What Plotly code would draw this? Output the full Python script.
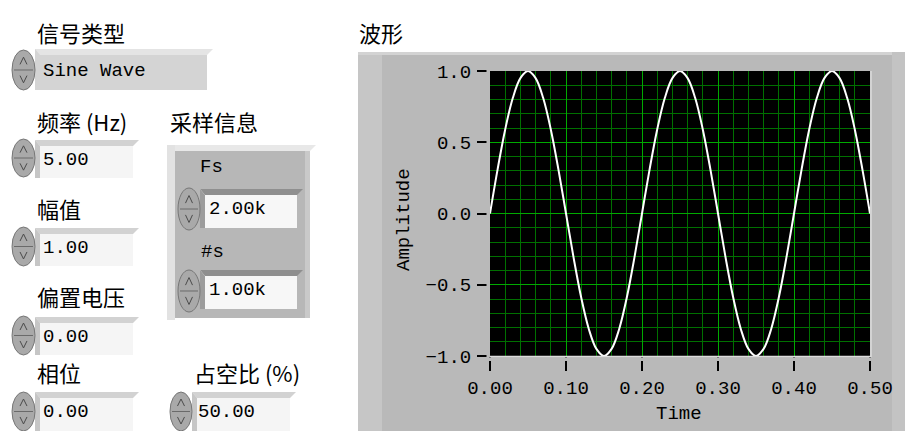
import plotly.graph_objects as go

# ---------------- data ----------------
TIME = [0.00, 0.01, 0.02, 0.03, 0.04, 0.05, 0.06, 0.07, 0.08, 0.09,
        0.10, 0.11, 0.12, 0.13, 0.14, 0.15, 0.16, 0.17, 0.18, 0.19,
        0.20, 0.21, 0.22, 0.23, 0.24, 0.25, 0.26, 0.27, 0.28, 0.29,
        0.30, 0.31, 0.32, 0.33, 0.34, 0.35, 0.36, 0.37, 0.38, 0.39,
        0.40, 0.41, 0.42, 0.43, 0.44, 0.45, 0.46, 0.47, 0.48, 0.49, 0.50]
AMPLITUDE = [0.00, 0.31, 0.59, 0.81, 0.95, 1.00, 0.95, 0.81, 0.59, 0.31,
             0.00, -0.31, -0.59, -0.81, -0.95, -1.00, -0.95, -0.81, -0.59, -0.31,
             0.00, 0.31, 0.59, 0.81, 0.95, 1.00, 0.95, 0.81, 0.59, 0.31,
             0.00, -0.31, -0.59, -0.81, -0.95, -1.00, -0.95, -0.81, -0.59, -0.31,
             0.00, 0.31, 0.59, 0.81, 0.95, 1.00, 0.95, 0.81, 0.59, 0.31, 0.00]
X_TICKS = [0.0, 0.1, 0.2, 0.3, 0.4, 0.5]
X_TICK_LABELS = ["0.00", "0.10", "0.20", "0.30", "0.40", "0.50"]
Y_TICKS = [-1.0, -0.5, 0.0, 0.5, 1.0]
Y_TICK_LABELS = ["\u22121.0", "\u22120.5", "0.0", "0.5", "1.0"]

# front panel control values
SIGNAL_TYPE = "Sine Wave"
FREQ = "5.00"
AMP = "1.00"
OFFSET = "0.00"
PHASE = "0.00"
DUTY = "50.00"
FS = "2.00k"
NS = "1.00k"

W, H = 905, 431
CJK = "Noto Sans CJK SC"
MONO = "Liberation Mono"


def X(p):
    return p / W


def Y(p):
    return 1 - p / H


shapes = []
annotations = []


def rect(x0, y0, x1, y1, fill, line=None, layer="below"):
    shapes.append(dict(type="rect", xref="paper", yref="paper",
                       x0=X(x0), x1=X(x1), y0=Y(y1), y1=Y(y0),
                       fillcolor=fill, layer=layer,
                       line=dict(width=0) if line is None else dict(color=line, width=1)))


def poly(pts, fill=None, line=None, width=1, closed=True, layer="below"):
    d = "M " + " L ".join(f"{X(a):.5f},{Y(b):.5f}" for a, b in pts)
    if closed:
        d += " Z"
    s = dict(type="path", xref="paper", yref="paper", path=d, layer=layer,
             line=dict(width=0) if line is None else dict(color=line, width=width))
    if fill:
        s["fillcolor"] = fill
    shapes.append(s)


def text(s, x, y, font=CJK, size=22, anchor="left", color="black"):
    annotations.append(dict(text=s, x=X(x), y=Y(y), xref="paper", yref="paper",
                            xanchor=anchor, yanchor="middle", showarrow=False,
                            font=dict(family=font, size=size, color=color)))


def spinner(x0, y0, x1, y1):
    shapes.append(dict(type="circle", xref="paper", yref="paper",
                       x0=X(x0), x1=X(x1), y0=Y(y1), y1=Y(y0),
                       fillcolor="#a9a9a9", line=dict(color="#767676", width=1),
                       layer="below"))
    cx = (x0 + x1) / 2
    my = (y0 + y1) / 2
    h = y1 - y0
    poly([(x0 + 2, my), (x1 - 2, my)], line="#6a6a6a", closed=False)
    poly([(cx - 3.5, y0 + h * 0.36), (cx, y0 + h * 0.18), (cx + 3.5, y0 + h * 0.36)],
         line="#4a4a4a", closed=False)
    poly([(cx - 3.5, y1 - h * 0.36), (cx, y1 - h * 0.18), (cx + 3.5, y1 - h * 0.36)],
         line="#4a4a4a", closed=False)


def numbox(x0, y0, x1, y1, fill="#f5f5f5", bevel="#d2d2d2", bevel2="#c6c6c6"):
    rect(x0, y0, x1, y1, fill)
    poly([(x0, y0), (x1 + 6, y0), (x1, y0 + 6), (x0 + 5, y0 + 6)], fill=bevel)
    poly([(x0, y0), (x0 + 5, y0 + 6), (x0 + 5, y1), (x0, y1)], fill=bevel2)


# ---------------- left controls ----------------
text("信号类型", 35, 32)
rect(35, 49, 207, 90, "#d4d4d4")
poly([(35, 49), (213, 49), (207, 55), (40, 55)], fill="#e4e4e4")
spinner(12, 50, 35, 90)
text(SIGNAL_TYPE, 41, 71, font=MONO, size=19)

text("频率 (Hz)", 35, 121)
numbox(35, 140, 133, 178)
spinner(12, 139, 35, 177)
text(FREQ, 41, 160, font=MONO, size=19)

text("幅值", 35, 208)
numbox(35, 228, 133, 266)
spinner(12, 227, 35, 266)
text(AMP, 41, 248, font=MONO, size=19)

text("偏置电压", 35, 296)
numbox(35, 317, 133, 355)
spinner(12, 316, 35, 355)
text(OFFSET, 41, 337, font=MONO, size=19)

text("相位", 35, 372)
numbox(35, 392, 133, 431)
spinner(12, 392, 35, 431)
text(PHASE, 41, 412, font=MONO, size=19)

text("占空比 (%)", 192, 372)
numbox(192, 392, 290, 431)
spinner(170, 392, 192, 431)
text(DUTY, 196, 412, font=MONO, size=19)

# sampling info cluster
text("采样信息", 168, 121)
poly([(167, 145), (316, 145), (310, 151), (167, 151)], fill="#e8e8e8")
rect(167, 145, 175, 320, "#e2e2e2")
rect(175, 151, 310, 318, "#b7b7b7")
rect(305, 151, 310, 318, "#c9c9c9")
text("Fs", 211, 167, font=MONO, size=19, anchor="center")
numbox(200, 189, 297, 228, fill="#f7f7f7", bevel="#8f8f8f", bevel2="#9c9c9c")
spinner(178, 188, 200, 230)
text(FS, 207, 209, font=MONO, size=19)
text("#s", 212, 252, font=MONO, size=19, anchor="center")
numbox(200, 270, 297, 309, fill="#f7f7f7", bevel="#8f8f8f", bevel2="#9c9c9c")
spinner(178, 270, 200, 312)
text(NS, 207, 290, font=MONO, size=19)

# ---------------- waveform graph frame ----------------
text("波形", 357, 32)
rect(358, 52, 905, 431, "#b9b9b9")
rect(358, 52, 382, 431, "#c6c6c6")
rect(358, 52, 905, 55, "#d3d3d3")
rect(892, 52, 905, 431, "#c3c3c3")
rect(490, 71, 870, 356, "#000000")
# bevel highlight at right/bottom of plotting area
poly([(490, 356.5), (871, 356.5), (871, 71)], line="#dcdcdc", width=1.5,
     closed=False, layer="above")
# gap between plot edge and tick marks
rect(486.5, 68, 489.3, 358, "#b9b9b9", layer="above")
rect(488, 357.5, 875, 361, "#b9b9b9", layer="above")

text("Amplitude", 404, 220, font=MONO, size=19, anchor="center")
annotations[-1]["textangle"] = -90
text("Time", 679, 414, font=MONO, size=19, anchor="center")

fig = go.Figure()
fig.add_trace(go.Scatter(x=TIME, y=AMPLITUDE, mode="lines",
                         line=dict(color="white", width=2, shape="spline"),
                         hoverinfo="skip", showlegend=False))

fig.update_layout(
    width=W, height=H,
    margin=dict(l=0, r=0, t=0, b=0, pad=0, autoexpand=False),
    paper_bgcolor="white",
    plot_bgcolor="black",
    shapes=shapes,
    annotations=annotations,
    showlegend=False,
    xaxis=dict(domain=[X(490), X(870)], range=[0, 0.5], automargin=False,
               tickvals=X_TICKS, ticktext=X_TICK_LABELS,
               ticks="outside", ticklen=14, tickwidth=1.5, tickcolor="black",
               showgrid=True, gridcolor="#00aa00", gridwidth=1,
               minor=dict(dtick=0.02, showgrid=True, gridcolor="#007000", gridwidth=1),
               zeroline=False, showline=False, fixedrange=True,
               tickfont=dict(family=MONO, size=19, color="black")),
    yaxis=dict(domain=[Y(356), Y(71)], range=[-1, 1], automargin=False,
               tickvals=Y_TICKS, ticktext=Y_TICK_LABELS,
               ticks="outside", ticklen=12, tickwidth=1.5, tickcolor="black",
               ticklabelstandoff=2,
               showgrid=True, gridcolor="#00aa00", gridwidth=1,
               minor=dict(dtick=0.1, showgrid=True, gridcolor="#007000", gridwidth=1),
               zeroline=False, showline=False, fixedrange=True,
               tickfont=dict(family=MONO, size=19, color="black")),
)

fig.write_html("out.html",
               config={"displayModeBar": False},
               post_script="document.body.style.margin='0px';"
                           "document.body.style.overflow='hidden';")
